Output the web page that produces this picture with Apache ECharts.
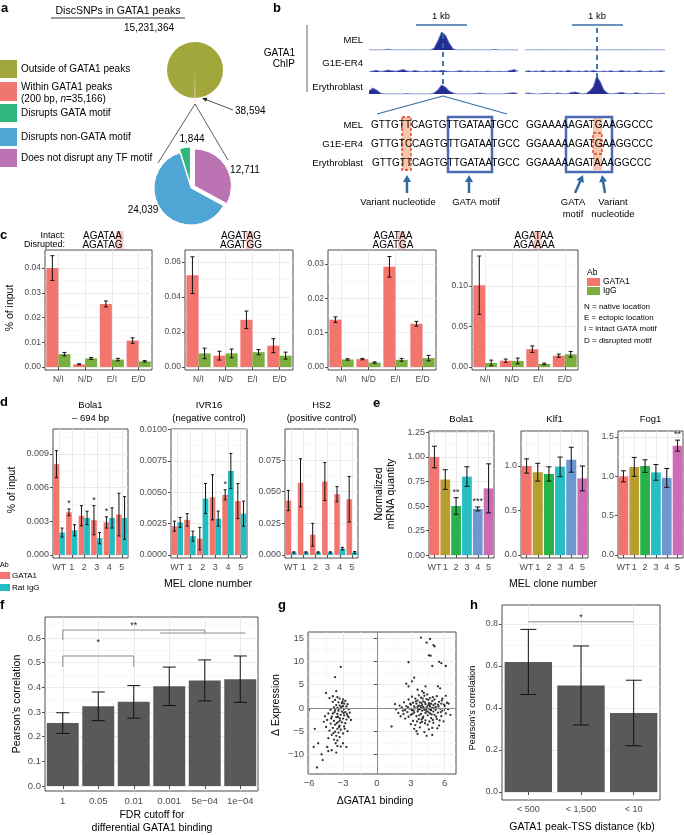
<!DOCTYPE html>
<html>
<head>
<meta charset="utf-8">
<script src="https://cdn.jsdelivr.net/npm/echarts@6.0.0/dist/echarts.min.js"></script>
<style>
  html, body { margin: 0; padding: 0; background: #fff; }
  #main { width: 684px; height: 835px; }
</style>
</head>
<body>
<div id="main"></div>
<script>
// ---------- data ----------

// a: SNP counts
var aOuterNames = ['Within GATA1 peaks', 'Outside of GATA1 peaks'];
var aOuterValues = [38594, 15231364];
var aInnerNames = ['Does not disrupt any TF motif', 'Disrupts non-GATA motif', 'Disrupts GATA motif'];
var aInnerValues = [12711, 24039, 1844];

// b: ChIP coverage (relative height), 40 bins per track
var trackLeftMEL = [0,0,0,0,0,0.04,0,0,0,0,0,0,0,0,0,0,0,0.08,0.45,0.9,0.75,0.35,0.06,0,0,0,0,0,0,0,0,0,0,0.03,0,0,0,0,0,0];
var trackLeftG1E = [0,0.05,0.08,0.03,0.05,0.1,0.06,0.04,0.08,0.12,0.05,0.03,0.07,0.04,0.02,0.05,0.03,0.06,0.04,0.08,0.05,0.03,0.02,0.04,0.06,0.03,0.05,0.02,0.04,0.03,0.02,0.05,0.03,0.02,0.04,0.02,0.03,0.08,0.12,0.05];
var trackLeftEry = [0.15,0.3,0.2,0.05,0,0,0,0,0,0,0.02,0,0,0,0,0,0,0.05,0.2,0.45,0.35,0.15,0.05,0,0,0,0,0,0.02,0.05,0.02,0,0,0,0,0,0.03,0.05,0.06,0.02];
var trackRightMEL = [0,0,0,0,0,0,0,0,0,0,0,0,0,0,0,0,0,0,0,0,0,0,0,0,0,0,0,0,0,0,0,0,0,0,0,0,0,0,0,0];
var trackRightG1E = [0.03,0.06,0.02,0.05,0.03,0.07,0.02,0.04,0.06,0.03,0.05,0.02,0.08,0.04,0.03,0.05,0.02,0.06,0.03,0.07,0.04,0.02,0.05,0.03,0.06,0.02,0.04,0.07,0.03,0.05,0.02,0.04,0.06,0.03,0.02,0.05,0.03,0.04,0.06,0.03];
var trackRightEry = [0.03,0.05,0.02,0,0,0.02,0.04,0.02,0,0.05,0.03,0,0.02,0.08,0.1,0.05,0,0.02,0.15,0.35,0.9,0.6,0.2,0.05,0,0.02,0.05,0.08,0.03,0,0.02,0.06,0.03,0,0.02,0.04,0.02,0,0.03,0.02];

// c: ChIP-qPCR at native/ectopic sites
var cCats = ['N/I', 'N/D', 'E/I', 'E/D'];
var c1Gata = [0.040, 0.0011, 0.0255, 0.0107];
var c1GataErr = [0.005, 0.0002, 0.0012, 0.0011];
var c1Igg = [0.0052, 0.0035, 0.0030, 0.0023];
var c1IggErr = [0.0007, 0.0004, 0.0005, 0.0003];
var c2Gata = [0.0525, 0.0065, 0.027, 0.0122];
var c2GataErr = [0.0105, 0.0025, 0.005, 0.004];
var c2Igg = [0.0078, 0.0078, 0.0085, 0.0065];
var c2IggErr = [0.003, 0.0025, 0.0015, 0.002];
var c3Gata = [0.0138, 0.0023, 0.0292, 0.0126];
var c3GataErr = [0.0008, 0.0002, 0.003, 0.0007];
var c3Igg = [0.0022, 0.0013, 0.0021, 0.0026];
var c3IggErr = [0.0002, 0.0002, 0.0004, 0.0008];
var c4Gata = [0.101, 0.0078, 0.022, 0.014];
var c4GataErr = [0.036, 0.002, 0.004, 0.002];
var c4Igg = [0.0050, 0.0075, 0.0038, 0.0157];
var c4IggErr = [0.0035, 0.0035, 0.001, 0.0035];
var cIntact = ['AGATAA', 'AGATAG', 'AGATAA', 'AGATAA'];
var cDisrupted = ['AGATAG', 'AGATGG', 'AGATGA', 'AGAAAA'];

// d: ChIP in MEL clones
var clones = ['WT', '1', '2', '3', '4', '5'];
var d1Gata = [0.0081, 0.0038, 0.0035, 0.0031, 0.0029, 0.0036];
var d1GataErr = [0.0012, 0.0003, 0.0009, 0.0013, 0.0005, 0.0019];
var d1Igg = [0.0020, 0.0022, 0.0033, 0.0015, 0.0033, 0.0033];
var d1IggErr = [0.0004, 0.0005, 0.0006, 0.0005, 0.0009, 0.0019];
var d1Stars = ['', '*', '', '*', '*', ''];
var d2Gata = [0.0023, 0.0028, 0.0013, 0.0046, 0.0048, 0.0043];
var d2GataErr = [0.0004, 0.0005, 0.0009, 0.0018, 0.0004, 0.0014];
var d2Igg = [0.0026, 0.0015, 0.0045, 0.0029, 0.0067, 0.0033];
var d2IggErr = [0.0004, 0.0004, 0.0012, 0.0006, 0.0014, 0.0010];
var d2Stars = ['', '', '', '', '*', ''];
var d3Gata = [0.043, 0.057, 0.016, 0.058, 0.048, 0.044];
var d3GataErr = [0.008, 0.019, 0.009, 0.015, 0.006, 0.018];
var d3Igg = [0.002, 0.002, 0.002, 0.002, 0.005, 0.002];
var d3IggErr = [0.0005, 0.0005, 0.0005, 0.0005, 0.001, 0.0007];

// e: RT-qPCR
var e1Values = [1.00, 0.77, 0.50, 0.80, 0.47, 0.68];
var e1Err = [0.11, 0.10, 0.085, 0.10, 0.02, 0.25];
var e1Stars = ['', '', '**', '', '***', ''];
var e2Values = [1.00, 0.93, 0.91, 0.99, 1.07, 0.86];
var e2Err = [0.08, 0.10, 0.08, 0.11, 0.14, 0.14];
var e3Values = [1.00, 1.12, 1.13, 1.05, 0.98, 1.39];
var e3Err = [0.07, 0.12, 0.08, 0.10, 0.12, 0.07];
var e3Stars = ['', '', '', '', '', '**'];

// f: correlation vs FDR cutoff
var fCats = ['1', '0.05', '0.01', '0.001', '5e\u221204', '1e\u221204'];
var fValues = [0.255, 0.323, 0.341, 0.404, 0.428, 0.433];
var fErr = [0.042, 0.058, 0.066, 0.078, 0.083, 0.094];
// bracket: [from, to, top, left end, right end]
var fSigLines = [[0, 2, 0.527, 0.482, 0.482], [0, 4, 0.632, 0.592, 0.62], [2.74, 5.15, 0.62, 0.62, 0.62]];
var fSigStars = [[1, 0.58, '*'], [2, 0.65, '**']];

// g: delta binding vs delta expression
var gPoints = [
  [-3.2,8.8],[-3.7,6.6],[-3.6,3.6],[-4.5,3.2],[-3.5,2.3],[-3.3,2.0],[-3.0,1.8],[-2.8,1.5],[-3.9,1.3],[-3.4,1.2],
  [-3.1,1.0],[-2.9,0.9],[-2.6,0.8],[-3.6,0.6],[-3.3,0.5],[-3.0,0.4],[-2.7,0.3],[-3.8,0.1],[-3.5,0.0],[-3.2,-0.1],
  [-2.9,-0.2],[-2.5,-0.3],[-4.1,-0.4],[-3.7,-0.5],[-3.4,-0.6],[-3.1,-0.8],[-2.8,-0.9],[-2.4,-1.0],[-4.3,-1.2],[-3.9,-1.2],
  [-3.5,-1.3],[-3.2,-1.5],[-2.9,-1.6],[-2.6,-1.7],[-4.0,-1.9],[-3.6,-2.0],[-3.3,-2.2],[-3.0,-2.3],[-2.7,-2.5],[-4.4,-2.6],
  [-3.8,-2.8],[-3.4,-3.0],[-3.1,-3.1],[-2.8,-3.3],[-4.1,-3.4],[-3.7,-3.6],[-3.3,-3.8],[-2.9,-4.0],[-4.5,-4.1],[-3.9,-4.3],
  [-3.5,-4.5],[-3.2,-4.7],[-4.2,-4.9],[-3.7,-5.1],[-3.4,-5.3],[-3.0,-5.5],[-4.0,-5.8],[-3.6,-6.0],[-3.3,-6.3],[-4.3,-6.5],
  [-3.8,-6.8],[-3.5,-7.0],[-5.5,-4.5],[-5.6,-8.4],[-5.2,-7.6],[-4.9,-10.0],[-4.8,-11.2],[-5.3,-12.8],[-4.3,-9.3],[-4.0,-9.1],
  [-3.6,-9.6],[-3.5,-8.2],[-3.2,-8.3],[-2.7,-8.4],[-4.4,-8.4],[-3.0,-7.6],[-2.6,-5.0],[-2.5,-2.0],[-2.3,-2.6],[-4.6,-1.8],
  [-4.2,2.1],[-3.9,2.5],[-3.7,1.7],[-3.4,-0.2],[-3.15,0.2],[-2.95,-1.1],[-3.25,-2.7],[-3.55,-3.3],[-2.85,-4.5],[-3.45,-1.9],
  [-3.75,-0.9],[-4.05,-2.3],[-3.05,1.3],[-3.35,-4.1],[-2.65,-1.3],[-3.85,-5.4],[-4.7,-3.0],[-3.65,-7.6],
  [3.9,15.1],[4.7,14.8],[4.4,14.0],[5.0,13.5],[5.1,13.2],[4.6,11.3],[4.75,11.2],[2.8,9.8],[4.9,9.0],[5.5,9.9],
  [5.7,9.6],[6.1,9.0],[3.3,6.5],[2.6,5.2],[3.1,5.7],[2.8,4.6],[5.4,4.6],[5.6,4.2],[4.3,4.6],[3.6,3.9],[4.0,3.6],
  [1.3,-4.0],[1.6,0.8],[1.7,-0.3],[1.9,-1.1],[2.0,0.5],[2.2,0.1],[2.3,-0.6],[2.4,1.2],[2.5,-2.3],[2.6,0.4],
  [2.7,-0.9],[2.8,1.8],[2.9,-0.2],[3.0,0.7],[3.0,-1.5],[3.1,2.4],[3.1,-0.5],[3.2,1.1],[3.2,-2.8],[3.3,0.3],
  [3.3,-1.0],[3.4,2.0],[3.4,-0.1],[3.4,-3.7],[3.5,0.9],[3.5,-1.8],[3.5,-5.0],[3.6,0.2],[3.6,1.6],[3.6,-0.8],
  [3.7,2.7],[3.7,-2.4],[3.7,0.5],[3.8,-0.3],[3.8,1.2],[3.8,-4.2],[3.9,0.0],[3.9,-1.3],[3.9,2.2],[4.0,0.6],
  [4.0,-0.6],[4.0,-3.0],[4.1,1.4],[4.1,-1.9],[4.1,0.2],[4.2,-0.4],[4.2,2.6],[4.2,-5.2],[4.3,0.8],[4.3,-1.1],
  [4.3,-2.7],[4.4,0.1],[4.4,1.9],[4.4,-0.7],[4.5,0.5],[4.5,-1.6],[4.5,-3.6],[4.6,1.0],[4.6,-0.2],[4.6,-4.6],
  [4.7,0.3],[4.7,-1.2],[4.7,2.1],[4.8,-0.5],[4.8,0.9],[4.8,-2.2],[4.9,0.0],[4.9,1.5],[4.9,-5.8],[5.0,-0.8],
  [5.0,0.6],[5.0,-3.2],[5.1,1.8],[5.1,-1.5],[5.2,0.2],[5.2,-0.4],[5.3,2.5],[5.3,-2.4],[5.4,0.7],[5.4,-1.0],
  [5.5,-3.8],[5.5,1.3],[5.6,-0.2],[5.7,0.9],[5.7,-1.8],[5.8,2.0],[5.8,-0.6],[5.9,-2.9],[6.0,0.4],[6.1,-1.2],
  [6.2,1.1],[6.3,-0.3],[6.5,-1.5],[6.1,2.6],[3.0,-3.5],[2.8,-1.9],[3.6,-5.6],[4.4,-6.0],[3.3,-4.5],[4.9,-4.3],
  [2.5,-0.5],[2.1,-1.8],[3.95,1.0],[4.25,1.2],[4.55,-0.9],[4.15,-0.1],[3.75,-1.6],[4.65,0.7],[3.85,0.4],[4.35,-0.3],
  [5.05,-0.1],[4.45,2.9],[3.55,-2.9],[4.05,-2.2],[5.25,-1.9],[3.25,-0.6],[2.95,0.9],[4.85,-1.4],[5.45,0.3],[5.65,-0.9],
  [4.95,-2.6],[3.65,-0.4],[4.75,-0.4],[5.15,0.9],[3.15,-1.3],[2.75,0.1],[5.95,0.7],[6.35,0.9],[4.25,-3.3],[3.45,1.4],
  [4.55,1.7],[3.95,-2.5],[5.35,-4.4],[5.55,-2.7],[4.15,3.2],[2.35,-1.3],[4.65,-2.9],[3.85,-3.2],[5.75,1.6],[4.05,2.0],[4.95,2.3]
];

// h: correlation vs peak-TSS distance
var hCats = ['< 500', '< 1,500', '< 10'];
var hValues = [0.619, 0.507, 0.376];
var hErr = [0.155, 0.188, 0.156];
var hSigLines = [[0, 2, 0.81, 0.81, 0.81]];
var hSigStars = [[1, 0.83, '*']];

// ---------- styling ----------
var FONT = '"Liberation Sans", Arial, Helvetica, sans-serif';
var GATA_RED = '#F3766E';
var IGG_GREEN = '#7BAE3F';
var RAT_TEAL = '#22BDC3';
var CLONE_COLORS = ['#F2746C', '#B69E31', '#27B24B', '#27BEC4', '#6E96CF', '#CE6BB5'];
var BAR_GREY = '#595959';
var PIE_COLORS = { olive: '#A1A73A', pink: '#F07670', green: '#2FB67C', blue: '#4FA6D5', purple: '#BC73B3' };
var SEQ_BLUE = '#2F6AA0';

var myChart = echarts.init(document.getElementById('main'), null, { renderer: 'canvas' });

// plot boxes: c1..c4, d1..d3, e1..e3, f, g, h
var boxes = [
  { left: 45, top: 250, width: 107, height: 120 },
  { left: 185, top: 250, width: 108, height: 120 },
  { left: 328, top: 250, width: 108, height: 120 },
  { left: 472, top: 250, width: 106, height: 120 },
  { left: 53, top: 429, width: 75, height: 129 },
  { left: 171, top: 429, width: 76, height: 129 },
  { left: 285, top: 429, width: 73, height: 129 },
  { left: 429, top: 431, width: 65, height: 127 },
  { left: 521, top: 431, width: 67, height: 127 },
  { left: 618, top: 431, width: 65, height: 127 },
  { left: 45, top: 617, width: 213, height: 174 },
  { left: 308, top: 632, width: 148, height: 142 },
  { left: 502, top: 605, width: 158, height: 195 }
];
// y range and ticks for each box
var yAxisSetup = [
  { range: [-0.0012, 0.0473], ticks: [0, 0.01, 0.02, 0.03, 0.04], dec: 2 },
  { range: [-0.0017, 0.0669], ticks: [0, 0.02, 0.04, 0.06], dec: 2 },
  { range: [-0.00087, 0.0341], ticks: [0, 0.01, 0.02, 0.03], dec: 2 },
  { range: [-0.0037, 0.1444], ticks: [0, 0.05, 0.10], dec: 2 },
  { range: [-0.00027, 0.01123], ticks: [0, 0.003, 0.006, 0.009], dec: 3 },
  { range: [-0.00024, 0.01005], ticks: [0, 0.0025, 0.005, 0.0075, 0.01], dec: 4 },
  { range: [-0.0024, 0.0995], ticks: [0, 0.025, 0.05, 0.075], dec: 3 },
  { range: [-0.03, 1.265], ticks: [0, 0.25, 0.5, 0.75, 1, 1.25], dec: 2 },
  { range: [-0.034, 1.393], ticks: [0, 0.5, 1], dec: 1 },
  { range: [-0.038, 1.576], ticks: [0, 0.5, 1, 1.5], dec: 1 },
  { range: [-0.0203, 0.685], ticks: [0, 0.1, 0.2, 0.3, 0.4, 0.5, 0.6], dec: 1 },
  { range: [-14.2, 16.3], ticks: [-10, -5, 0, 5, 10, 15], dec: 0 },
  { range: [-0.038, 0.89], ticks: [0, 0.2, 0.4, 0.6, 0.8], dec: 1 }
];
var tickFont = [8.5, 8.5, 8.5, 8.5, 9, 9, 9, 9, 9, 9, 9.5, 9.5, 9];

var trackBoxes = [
  { left: 369, top: 30, width: 149, height: 20, data: trackLeftMEL },
  { left: 369, top: 52, width: 149, height: 20, data: trackLeftG1E },
  { left: 369, top: 74, width: 149, height: 20, data: trackLeftEry },
  { left: 525, top: 30, width: 140, height: 20, data: trackRightMEL },
  { left: 525, top: 52, width: 140, height: 20, data: trackRightG1E },
  { left: 525, top: 74, width: 140, height: 20, data: trackRightEry }
];

function fmtDec(d) {
  return function (v) { return (+v).toFixed(d).replace('-', '\u2212'); };
}

var grids = [], xAxes = [], yAxes = [], minorAxesX = [], minorAxesY = [], series = [];

function minorOf(ticks, range) {
  var step = ticks[1] - ticks[0], out = [];
  if (ticks[0] - step / 2 >= range[0]) out.push(ticks[0] - step / 2);
  for (var i = 0; i < ticks.length - 1; i++) out.push((ticks[i] + ticks[i + 1]) / 2);
  if (ticks[ticks.length - 1] + step / 2 <= range[1]) out.push(ticks[ticks.length - 1] + step / 2);
  return out;
}

function valueAxis(gi, range, ticks, dec, fs) {
  return {
    type: 'value', gridIndex: gi, min: range[0], max: range[1],
    axisLine: { show: false },
    axisTick: { show: true, length: 3, customValues: ticks, lineStyle: { color: '#4d4d4d' } },
    axisLabel: { customValues: ticks, formatter: fmtDec(dec), color: '#4d4d4d', fontSize: fs, margin: 4, fontFamily: FONT },
    splitLine: { show: true, lineStyle: { color: '#e6e6e6', width: 0.8 } }
  };
}
function minorAxis(type, gi, range, ticks) {
  var m = minorOf(ticks, range);
  return {
    type: 'value', gridIndex: gi, min: range[0], max: range[1],
    axisLine: { show: false },
    axisTick: { show: false, customValues: m },
    axisLabel: { show: false, customValues: m },
    splitLine: { show: true, lineStyle: { color: '#f3f3f3', width: 0.6 } }
  };
}
function categoryAxis(gi, cats, fs) {
  return {
    type: 'category', gridIndex: gi, data: cats, boundaryGap: true,
    axisLine: { show: false },
    axisTick: { show: true, alignWithLabel: true, length: 3, lineStyle: { color: '#4d4d4d' } },
    axisLabel: { color: '#4d4d4d', fontSize: fs, margin: 5, interval: 0, fontFamily: FONT },
    splitLine: { show: true, alignWithLabel: true, lineStyle: { color: '#e6e6e6', width: 0.8 } }
  };
}

// error bars drawn through the axes
function errBars(gi, values, errs, offset, cap, stars, starSize) {
  return {
    type: 'custom', xAxisIndex: gi, yAxisIndex: gi, z: 5, silent: true,
    data: values.map(function (v, i) { return [i, v - errs[i], v + errs[i]]; }),
    renderItem: function (params, api) {
      var band = api.size([1, 0])[0];
      var lo = api.coord([api.value(0), api.value(1)]);
      var hi = api.coord([api.value(0), api.value(2)]);
      var x = lo[0] + offset * band;
      var st = { stroke: '#111', lineWidth: 1 };
      var ch = [
        { type: 'line', shape: { x1: x, y1: lo[1], x2: x, y2: hi[1] }, style: st },
        { type: 'line', shape: { x1: x - cap, y1: lo[1], x2: x + cap, y2: lo[1] }, style: st },
        { type: 'line', shape: { x1: x - cap, y1: hi[1], x2: x + cap, y2: hi[1] }, style: st }
      ];
      var s = stars && stars[params.dataIndex];
      if (s) {
        ch.push({ type: 'text', x: x, y: hi[1] - 1,
          style: { text: s, textAlign: 'center', textVerticalAlign: 'bottom', fontSize: starSize || 9, fontFamily: FONT, fill: '#222' } });
      }
      return { type: 'group', children: ch };
    }
  };
}

// significance brackets drawn through the axes
function sigSeries(gi, lines, stars) {
  return [{
    type: 'custom', xAxisIndex: gi, yAxisIndex: gi, z: 6, silent: true,
    data: lines,
    renderItem: function (params, api) {
      var band = api.size([1, 0])[0];
      var x0 = api.coord([0, 0])[0];
      var xa = x0 + api.value(0) * band, xb = x0 + api.value(1) * band;
      var yt = api.coord([0, api.value(2)])[1];
      var yl = api.coord([0, api.value(3)])[1];
      var yr = api.coord([0, api.value(4)])[1];
      var st = { stroke: '#8a8a8a', lineWidth: 1, fill: 'none' };
      return { type: 'polyline', shape: { points: [[xa, yl], [xa, yt], [xb, yt], [xb, yr]] }, style: st };
    }
  }, {
    type: 'custom', xAxisIndex: gi, yAxisIndex: gi, z: 6, silent: true,
    data: stars.map(function (s) { return [s[0], s[1]]; }),
    renderItem: function (params, api) {
      var p = api.coord([api.value(0), api.value(1)]);
      return { type: 'text', x: p[0], y: p[1],
        style: { text: stars[params.dataIndex][2], textAlign: 'center', textVerticalAlign: 'middle', fontSize: 9, fontFamily: FONT, fill: '#222' } };
    }
  }];
}

// build grids and axes for the 13 plot boxes
boxes.forEach(function (b, gi) {
  grids.push({ left: b.left, top: b.top, width: b.width, height: b.height, show: true,
    borderColor: '#4d4d4d', borderWidth: 1, backgroundColor: '#fff' });
  var ys = yAxisSetup[gi];
  yAxes.push(valueAxis(gi, ys.range, ys.ticks, ys.dec, tickFont[gi]));
  minorAxesY.push(minorAxis('y', gi, ys.range, ys.ticks));
  if (gi <= 3) xAxes.push(categoryAxis(gi, cCats, 8.5));
  else if (gi <= 9) xAxes.push(categoryAxis(gi, clones, 9));
  else if (gi === 10) xAxes.push(categoryAxis(gi, fCats, 9.5));
  else if (gi === 11) {
    xAxes.push(valueAxis(gi, [-6.1, 7.0], [-6, -3, 0, 3, 6], 0, 9.5));
    minorAxesX.push(minorAxis('x', gi, [-6.1, 7.0], [-6, -3, 0, 3, 6]));
  }
  else xAxes.push(categoryAxis(gi, hCats, 9));
});

// ChIP track grids for panel b
trackBoxes.forEach(function (t, k) {
  var gi = grids.length;
  grids.push({ left: t.left, top: t.top, width: t.width, height: t.height, show: false });
  xAxes.push({ type: 'value', gridIndex: gi, min: 0, max: t.data.length - 1, show: false });
  yAxes.push({ type: 'value', gridIndex: gi, min: 0, max: 1, show: false });
  series.push({
    type: 'line', xAxisIndex: gi, yAxisIndex: gi, silent: true, showSymbol: false,
    data: t.data.map(function (v, i) { return [i, v]; }),
    lineStyle: { color: '#6B7CC9', width: 1 },
    areaStyle: { color: '#262C93', opacity: 1 }
  });
});

// panel c
var cSets = [[c1Gata, c1GataErr, c1Igg, c1IggErr], [c2Gata, c2GataErr, c2Igg, c2IggErr],
             [c3Gata, c3GataErr, c3Igg, c3IggErr], [c4Gata, c4GataErr, c4Igg, c4IggErr]];
cSets.forEach(function (s, gi) {
  series.push({ type: 'bar', xAxisIndex: gi, yAxisIndex: gi, data: s[0], barWidth: '45%', barGap: '0%', itemStyle: { color: GATA_RED }, silent: true });
  series.push({ type: 'bar', xAxisIndex: gi, yAxisIndex: gi, data: s[2], barWidth: '45%', barGap: '0%', itemStyle: { color: IGG_GREEN }, silent: true });
  series.push(errBars(gi, s[0], s[1], -0.225, 2));
  series.push(errBars(gi, s[2], s[3], 0.225, 2));
});

// panel d
var dSets = [[d1Gata, d1GataErr, d1Igg, d1IggErr, d1Stars], [d2Gata, d2GataErr, d2Igg, d2IggErr, d2Stars],
             [d3Gata, d3GataErr, d3Igg, d3IggErr, null]];
dSets.forEach(function (s, k) {
  var gi = 4 + k;
  series.push({ type: 'bar', xAxisIndex: gi, yAxisIndex: gi, data: s[0], barWidth: '45%', barGap: '0%', itemStyle: { color: GATA_RED }, silent: true });
  series.push({ type: 'bar', xAxisIndex: gi, yAxisIndex: gi, data: s[2], barWidth: '45%', barGap: '0%', itemStyle: { color: RAT_TEAL }, silent: true });
  series.push(errBars(gi, s[0], s[1], -0.225, 1.5, s[4], 9));
  series.push(errBars(gi, s[2], s[3], 0.225, 1.5));
});

// panel e
var eSets = [[e1Values, e1Err, e1Stars], [e2Values, e2Err, null], [e3Values, e3Err, e3Stars]];
eSets.forEach(function (s, k) {
  var gi = 7 + k;
  series.push({
    type: 'bar', xAxisIndex: gi, yAxisIndex: gi, barWidth: '90%', silent: true,
    data: s[0].map(function (v, i) { return { value: v, itemStyle: { color: CLONE_COLORS[i] } }; })
  });
  series.push(errBars(gi, s[0], s[1], 0, 2.5, s[2], 9));
});

// panel f
series.push({ type: 'bar', xAxisIndex: 10, yAxisIndex: 10, data: fValues, barWidth: '90%', itemStyle: { color: BAR_GREY }, silent: true });
series.push(errBars(10, fValues, fErr, 0, 6.5));
series = series.concat(sigSeries(10, fSigLines, fSigStars));

// panel g
series.push({
  type: 'scatter', xAxisIndex: 11, yAxisIndex: 11, data: gPoints, symbolSize: 2.3, silent: true,
  itemStyle: { color: '#000' },
  markLine: { silent: true, symbol: ['none', 'none'], label: { show: false },
    lineStyle: { color: '#8a8a8a', width: 1, type: 'solid' },
    data: [{ xAxis: 0 }, { yAxis: 0 }] }
});

// panel h
series.push({ type: 'bar', xAxisIndex: 12, yAxisIndex: 12, data: hValues, barWidth: '90%', itemStyle: { color: BAR_GREY }, silent: true });
series.push(errBars(12, hValues, hErr, 0, 8));
series = series.concat(sigSeries(12, hSigLines, hSigStars));

// panel a pies
series.push({
  type: 'pie', center: [195, 70], radius: 28, startAngle: -89.55, clockwise: true, silent: true,
  selectedMode: 'multiple', selectedOffset: 5, minAngle: 1.2,
  label: { show: false }, labelLine: { show: false },
  data: [
    { name: aOuterNames[0], value: aOuterValues[0], selected: true, itemStyle: { color: '#F6B3AE' } },
    { name: aOuterNames[1], value: aOuterValues[1], itemStyle: { color: PIE_COLORS.olive } }
  ]
});
series.push({
  type: 'pie', center: [191, 188], radius: 37, startAngle: 90, clockwise: true, silent: true,
  selectedMode: 'multiple', selectedOffset: 4,
  label: { show: false }, labelLine: { show: false },
  itemStyle: { borderColor: '#fff', borderWidth: 1 },
  data: [
    { name: aInnerNames[0], value: aInnerValues[0], selected: true, itemStyle: { color: PIE_COLORS.purple } },
    { name: aInnerNames[1], value: aInnerValues[1], itemStyle: { color: PIE_COLORS.blue } },
    { name: aInnerNames[2], value: aInnerValues[2], selected: true, itemStyle: { color: PIE_COLORS.green } }
  ]
});

// ---------- text and drawn annotations ----------
function T(x, y, text, size, align, extra) {
  extra = extra || {};
  var st = { text: text, fontSize: size, fontFamily: FONT, fontWeight: extra.bold ? 'bold' : 'normal',
    fill: extra.color || '#000', textAlign: align || 'left', textVerticalAlign: 'middle' };
  if (extra.rich) st.rich = extra.rich;
  return { type: 'text', x: x, y: y, rotation: extra.rot ? Math.PI / 2 : 0, style: st, z: 20, silent: true };
}
function L(x1, y1, x2, y2, color, w, dash) {
  return { type: 'line', shape: { x1: x1, y1: y1, x2: x2, y2: y2 },
    style: { stroke: color || '#000', lineWidth: w || 1, lineDash: dash || null }, z: 15, silent: true };
}
function R(x, y, w, h, fill, stroke, lw, dash, z) {
  return { type: 'rect', shape: { x: x, y: y, width: w, height: h },
    style: { fill: fill || 'none', stroke: stroke || null, lineWidth: lw || 0, lineDash: dash || null }, z: z || 12, silent: true };
}
function arrow(x1, y1, x2, y2, color, w, hl, hw) {
  var dx = x2 - x1, dy = y2 - y1, len = Math.sqrt(dx * dx + dy * dy);
  var ux = dx / len, uy = dy / len;
  var bx = x2 - ux * hl, by = y2 - uy * hl;
  return [
    L(x1, y1, bx + ux, by + uy, color, w),
    { type: 'polygon', shape: { points: [[x2, y2], [bx - uy * hw, by + ux * hw], [bx + uy * hw, by - ux * hw]] },
      style: { fill: color }, z: 16, silent: true }
  ];
}

var g = [];
// panel a
g.push(T(1, 8, 'a', 13, 'left', { bold: true }));
g.push(T(118, 11, 'DiscSNPs in GATA1 peaks', 10.5, 'center'));
g.push(L(51, 18, 185, 18, '#000', 0.8));
g.push(T(149, 28, '15,231,364', 10, 'center'));
g.push(R(0, 60, 17, 18, PIE_COLORS.olive));
g.push(T(21, 69, 'Outside of GATA1 peaks', 10));
g.push(R(0, 82, 17, 19, PIE_COLORS.pink));
g.push(T(21, 87, 'Within GATA1 peaks', 10));
g.push(T(21, 99, '(200 bp, {i|n}=35,166)', 10, 'left', { rich: { i: { fontStyle: 'italic', fontSize: 10, fontFamily: FONT } } }));
g.push(R(0, 104, 17, 18, PIE_COLORS.green));
g.push(T(21, 113, 'Disrupts GATA motif', 10));
g.push(R(0, 128, 17, 18, PIE_COLORS.blue));
g.push(T(21, 137, 'Disrupts non-GATA motif', 10));
g.push(R(0, 149, 17, 18, PIE_COLORS.purple));
g.push(T(21, 158, 'Does not disrupt any TF motif', 10));
g = g.concat(arrow(233, 110, 202, 98, '#222', 0.8, 5, 2.2));
g.push(T(235, 111, '38,594', 10));
g.push(L(195, 104, 158, 163, '#333', 0.8));
g.push(L(195, 104, 228, 160, '#333', 0.8));
g.push(T(192, 139, '1,844', 10, 'center'));
g.push(T(245, 170, '12,711', 10, 'center'));
g.push(T(143, 210, '24,039', 10, 'center'));

// panel b
g.push(T(273, 8, 'b', 13, 'left', { bold: true }));
g.push(T(295, 53, 'GATA1', 10, 'right'));
g.push(T(295, 64, 'ChIP', 10, 'right'));
g.push(L(307, 25, 307, 92, '#666', 1));
g.push(T(363, 40, 'MEL', 9.5, 'right'));
g.push(T(363, 63, 'G1E-ER4', 9.5, 'right'));
g.push(T(363, 87, 'Erythroblast', 9.5, 'right'));
g.push(L(416, 25, 467, 25, '#3A6EA5', 1.5));
g.push(T(441, 16, '1 kb', 9.5, 'center'));
g.push(L(572, 25, 623, 25, '#3A6EA5', 1.5));
g.push(T(597, 16, '1 kb', 9.5, 'center'));
g.push(L(443, 34, 443, 88, SEQ_BLUE, 1.8, [5, 4]));
g.push(L(597, 28, 597, 80, SEQ_BLUE, 1.8, [5, 4]));
g.push(L(443, 96, 377, 114, '#3A6EA5', 1.2));
g.push(L(443, 96, 507, 114, '#3A6EA5', 1.2));
g.push(T(363, 125, 'MEL', 9.5, 'right'));
g.push(T(363, 144, 'G1E-ER4', 9.5, 'right'));
g.push(T(363, 163, 'Erythroblast', 9.5, 'right'));
g.push(R(402, 117, 9, 53, '#F5C6A8', null, 0, null, 10));
g.push(R(402, 117, 9, 53, null, '#D9362B', 1.3, [3, 2], 14));
g.push(R(448, 117, 44, 55, null, '#4D6AB4', 2.5, null, 14));
g.push(R(593, 117, 9, 53, '#F5C6A8', null, 0, null, 10));
g.push(R(593, 133, 9, 21, null, '#D9362B', 1.3, [3, 2], 14));
g.push(R(566, 117, 46, 55, null, '#4D6AB4', 2.5, null, 14));
g.push(T(371, 125, 'GTTGTTCAGTGTTGATAATGCC', 10));
g.push(T(371, 144, 'GTTGTCCAGTGTTGATAATGCC', 10));
g.push(T(372, 163, 'GTTGTTCAGTGTTGATAATGCC', 10));
g.push(T(526, 125, 'GGAAAAAGATGAAGGCCC', 10));
g.push(T(526, 144, 'GGAAAAAGATGAAGGCCC', 10));
g.push(T(526, 163, 'GGAAAAAGATAAAGGCCC', 10));
g = g.concat(arrow(407, 193, 407, 175, SEQ_BLUE, 2.5, 7, 4));
g = g.concat(arrow(469, 193, 469, 175, SEQ_BLUE, 2.5, 7, 4));
g = g.concat(arrow(575, 193, 583, 175, SEQ_BLUE, 2.5, 7, 4));
g = g.concat(arrow(605, 193, 602, 175, SEQ_BLUE, 2.5, 7, 4));
g.push(T(398, 202, 'Variant nucleotide', 9.5, 'center'));
g.push(T(476, 202, 'GATA motif', 9.5, 'center'));
g.push(T(573, 202, 'GATA', 9.5, 'center'));
g.push(T(573, 214, 'motif', 9.5, 'center'));
g.push(T(613, 202, 'Variant', 9.5, 'center'));
g.push(T(613, 214, 'nucleotide', 9.5, 'center'));

// panel c
g.push(T(0, 235, 'c', 13, 'left', { bold: true }));
g.push(T(65, 236, 'Intact:', 9, 'right'));
g.push(T(65, 245, 'Disrupted:', 9, 'right'));
var cSeqCenter = [102.5, 241, 393, 534];
var cHighlightX = [116, 246, 398, 534];
cIntact.forEach(function (s, k) {
  g.push(R(cHighlightX[k], 231, 7.5, 18, '#F6C9C4', null, 0, null, 10));
  g.push(T(cSeqCenter[k], 236, s, 10, 'center'));
  g.push(T(cSeqCenter[k], 245, cDisrupted[k], 10, 'center'));
});
g.push(T(10, 308, '% of input', 10.5, 'center', { rot: true }));
g.push(T(587, 273, 'Ab', 8.5));
g.push(R(587, 278, 13, 8, GATA_RED));
g.push(T(603, 282, 'GATA1', 8.5));
g.push(R(587, 287, 13, 8, IGG_GREEN));
g.push(T(603, 291, 'IgG', 8.5));
g.push(T(584, 307, 'N = native location', 8));
g.push(T(584, 318, 'E = ectopic location', 8));
g.push(T(584, 329, 'I = intact GATA motif', 8));
g.push(T(584, 341, 'D = disrupted motif', 8));

// panel d
g.push(T(0, 402, 'd', 13, 'left', { bold: true }));
g.push(T(90.5, 405, 'Bola1', 9.5, 'center'));
g.push(T(90.5, 418, '\u2013 694 bp', 9.5, 'center'));
g.push(T(209, 405, 'IVR16', 9.5, 'center'));
g.push(T(209, 418, '(negative control)', 9.5, 'center'));
g.push(T(321.5, 405, 'HS2', 9.5, 'center'));
g.push(T(321.5, 418, '(positive control)', 9.5, 'center'));
g.push(T(12, 490, '% of input', 10.5, 'center', { rot: true }));
g.push(T(0, 565, 'Ab', 7));
g.push(R(0, 572, 10, 7, GATA_RED));
g.push(T(12, 576, 'GATA1', 8));
g.push(R(0, 584, 10, 7, RAT_TEAL));
g.push(T(12, 588, 'Rat IgG', 8));
g.push(T(208, 584, 'MEL clone number', 10.5, 'center'));

// panel e
g.push(T(373, 403, 'e', 13, 'left', { bold: true }));
g.push(T(461.5, 419, 'Bola1', 9.5, 'center'));
g.push(T(554.5, 419, 'Klf1', 9.5, 'center'));
g.push(T(650.5, 419, 'Fog1', 9.5, 'center'));
g.push(T(379, 494, 'Normalized', 10.5, 'center', { rot: true }));
g.push(T(391, 494, 'mRNA quantity', 10.5, 'center', { rot: true }));
g.push(T(553, 584, 'MEL clone number', 10.5, 'center'));

// panel f
g.push(T(0, 605, 'f', 13, 'left', { bold: true }));
g.push(T(17, 704, 'Pearson\u2019s correlation', 10.5, 'center', { rot: true }));
g.push(T(152, 815, 'FDR cutoff for', 10.5, 'center'));
g.push(T(152, 828, 'differential GATA1 binding', 10.5, 'center'));

// panel g
g.push(T(278, 605, 'g', 13, 'left', { bold: true }));
g.push(T(276, 705, '\u0394 Expression', 10.5, 'center', { rot: true }));
g.push(T(375, 801, '\u0394GATA1 binding', 10.5, 'center'));

// panel h
g.push(T(470, 605, 'h', 13, 'left', { bold: true }));
g.push(T(473, 708, 'Pearson\u2019s correlation', 9, 'center', { rot: true }));
g.push(T(582, 827, 'GATA1 peak-TSS distance (kb)', 10.5, 'center'));

var option = {
  animation: false,
  backgroundColor: '#fff',
  textStyle: { fontFamily: FONT },
  grid: grids,
  xAxis: xAxes.concat(minorAxesX),
  yAxis: yAxes.concat(minorAxesY),
  series: series,
  graphic: g
};
myChart.setOption(option);
</script>
</body>
</html>
